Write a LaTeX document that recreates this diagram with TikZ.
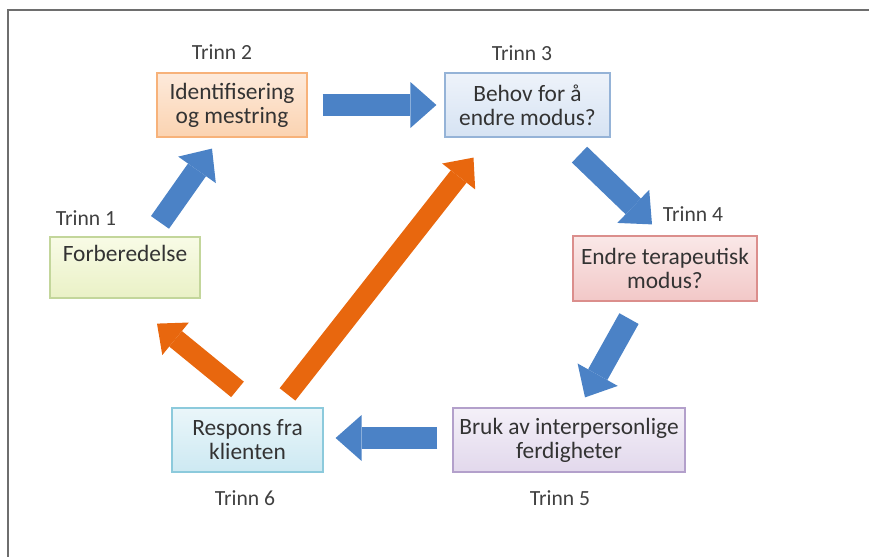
\documentclass[tikz,border=0pt]{standalone}
\usepackage{fontspec}
\setmainfont{Carlito}
\usetikzlibrary{arrows.meta,calc}

\definecolor{boxtext}{HTML}{333333}
\definecolor{labeltext}{HTML}{404040}
\definecolor{framegray}{HTML}{6E6E6E}
\definecolor{arrowblue}{HTML}{4B82C6}
\definecolor{arroworange}{HTML}{E8670E}
% boksfarger
\definecolor{greenline}{HTML}{C3D69B}\definecolor{greentop}{HTML}{F8FBE6}\definecolor{greenbot}{HTML}{EAF1C6}
\definecolor{orangeline}{HTML}{F7B27A}\definecolor{orangetop}{HTML}{FDEADB}\definecolor{orangebot}{HTML}{FBD3B1}
\definecolor{blueline}{HTML}{95B3D7}\definecolor{bluetop}{HTML}{EEF3FA}\definecolor{bluebot}{HTML}{D6E3F3}
\definecolor{redline}{HTML}{DB8E8C}\definecolor{redtop}{HTML}{FAE8E8}\definecolor{redbot}{HTML}{F2C8C7}
\definecolor{purpleline}{HTML}{B3A0CB}\definecolor{purpletop}{HTML}{F4F0F8}\definecolor{purplebot}{HTML}{E2D8EC}
\definecolor{aqualine}{HTML}{8CCADC}\definecolor{aquatop}{HTML}{EAF6FA}\definecolor{aquabot}{HTML}{CDE9F2}

\tikzset{
  stepbox/.style={draw, line width=0.6pt, align=center, inner sep=2pt,
    text=boxtext, font=\fontsize{11.7}{12}\selectfont},
  trinn/.style={text=labeltext, font=\fontsize{10.8}{12}\selectfont},
  bluearrow/.style={draw=arrowblue, line width=11pt,
    -{Triangle[width=23pt,length=13pt,line width=0pt]}},
  orangearrow/.style={draw=arroworange, line width=10pt,
    -{Triangle[width=21pt,length=12pt,line width=0pt]}}
}

\begin{document}
\begin{tikzpicture}[x=0.5pt, y=-0.5pt]
    \useasboundingbox (0,0) rectangle (869,557);
    % ramme
    \draw[framegray, line width=1pt] (869,10) -- (8,10) -- (8,557);

    % trinnboksene
    \node[stepbox, draw=greenline, top color=greentop, bottom color=greenbot,
          minimum width=75pt, minimum height=30.5pt, text depth=14pt]
          (b1) at (125,267.5) {Forberedelse};
    \node[stepbox, draw=orangeline, top color=orangetop, bottom color=orangebot,
          minimum width=75pt, minimum height=32pt]
          (b2) at (232,105) {Identifisering\\og mestring};
    \node[stepbox, draw=blueline, top color=bluetop, bottom color=bluebot,
          minimum width=82.5pt, minimum height=32pt]
          (b3) at (527.5,105) {Behov for å\\endre modus?};
    \node[stepbox, draw=redline, top color=redtop, bottom color=redbot,
          minimum width=92pt, minimum height=32.5pt]
          (b4) at (665,268.5) {Endre terapeutisk\\modus?};
    \node[stepbox, draw=purpleline, top color=purpletop, bottom color=purplebot,
          minimum width=116pt, minimum height=32pt]
          (b5) at (569,440) {Bruk av interpersonlige\\ferdigheter};
    \node[stepbox, draw=aqualine, top color=aquatop, bottom color=aquabot,
          minimum width=75.5pt, minimum height=32pt]
          (b6) at (247.5,440) {Respons fra\\klienten};

    % trinn-etiketter
    \node[trinn] (t1) at (86,218) {Trinn 1};
    \node[trinn] (t2) at (222,52) {Trinn 2};
    \node[trinn] (t3) at (522,53) {Trinn 3};
    \node[trinn] (t4) at (693,214) {Trinn 4};
    \node[trinn] (t5) at (560,498) {Trinn 5};
    \node[trinn] (t6) at (245,498) {Trinn 6};

    % piler
    \draw[bluearrow] ($(b1.north)+(35,-14)$) -- ($(b2.south)+(-20,11)$);
    \draw[bluearrow] ($(b2.east)+(15,0)$) -- ($(b3.west)+(-8,0)$);
    \draw[bluearrow] ($(b3.south)+(52,17)$) -- ($(b4.north)+(-13,-11)$);
    \draw[bluearrow] ($(b4.south)+(-36,17)$) -- ($(b5.north)+(16,-10)$);
    \draw[bluearrow] ($(b5.west)+(-15,-2)$) -- ($(b6.east)+(12,-2)$);
    \draw[orangearrow] ($(b6.north)+(-10,-18)$) -- ($(b1.south)+(32,25)$);
    \draw[orangearrow] ($(b6.north)+(40,-13)$) -- ($(b3.south)+(-54,20)$);
\end{tikzpicture}
\end{document}
